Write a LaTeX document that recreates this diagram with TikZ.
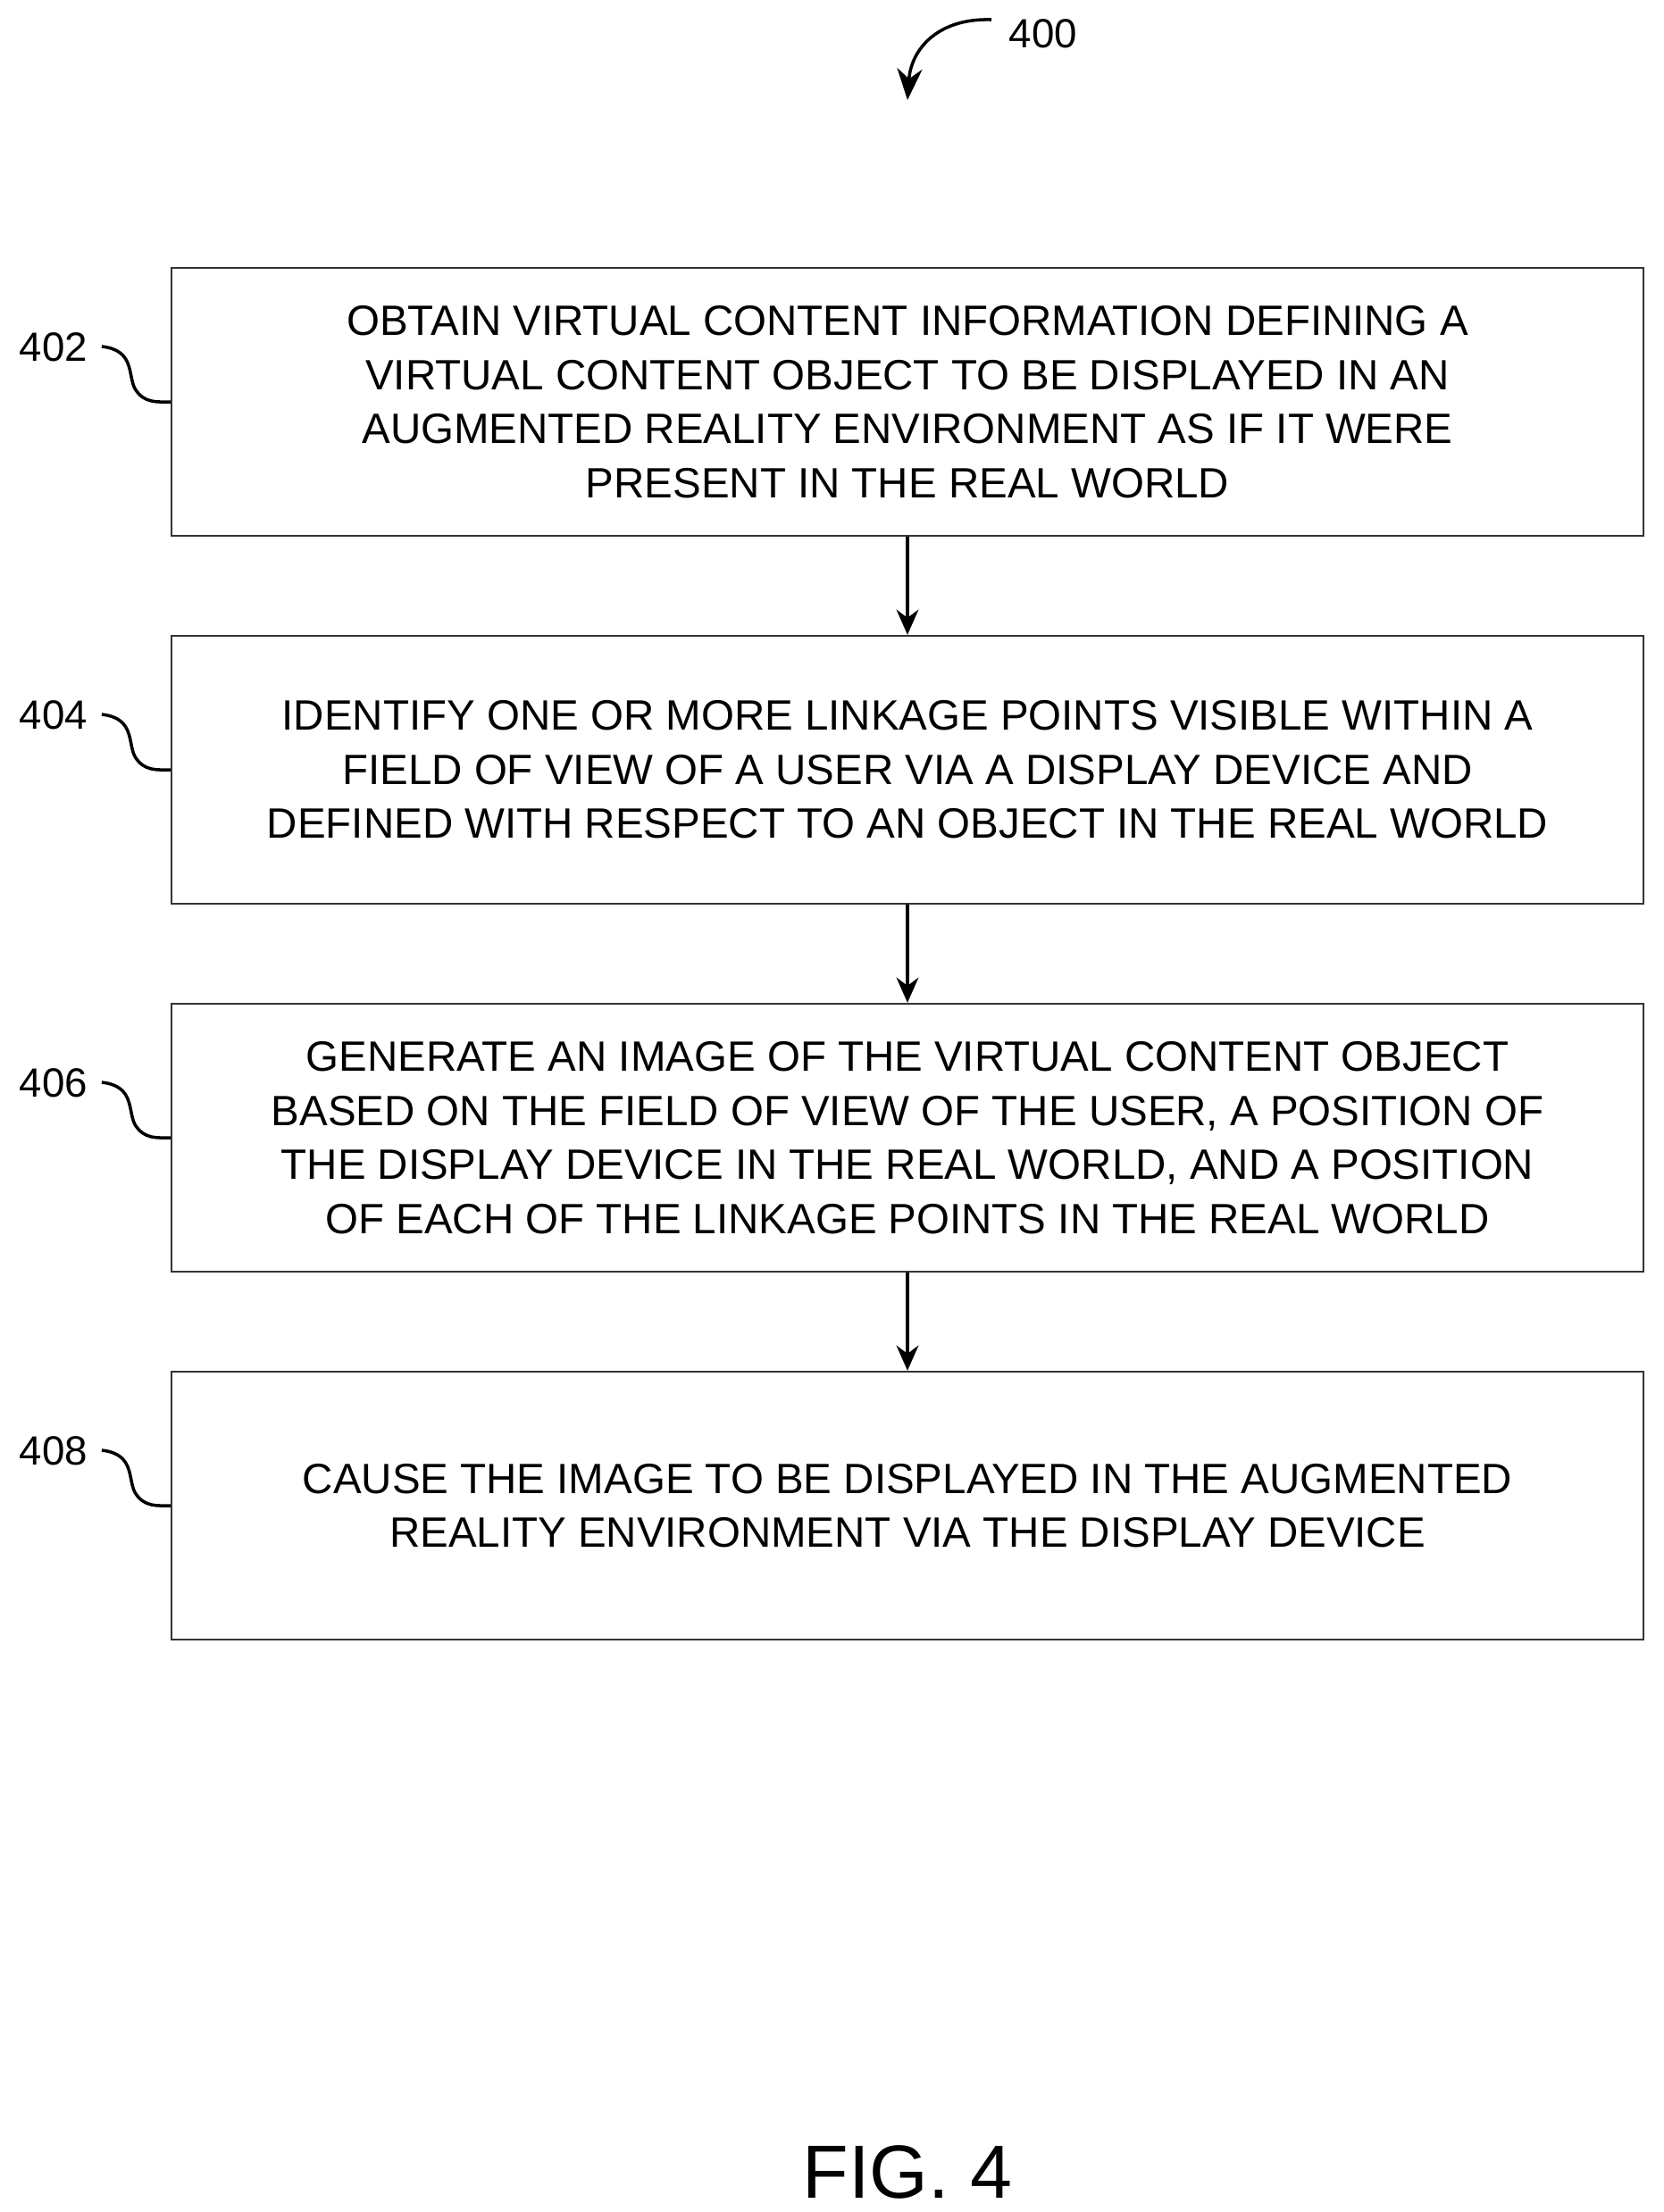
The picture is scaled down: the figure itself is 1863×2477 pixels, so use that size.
\documentclass[tikz,border=0pt]{standalone}
\usepackage{fontspec}
\setmainfont{Liberation Sans}
\usetikzlibrary{positioning,arrows.meta,calc}

\tikzset{
  stepbox/.style={draw=black!80, line width=0.6pt, minimum width=16.47cm, minimum height=3cm,
    align=center, font=\fontsize{13.5pt}{17.2pt}\selectfont, inner sep=0pt},
  reflabel/.style={font=\fontsize{13pt}{15pt}\selectfont},
  flow/.style={-{Stealth[length=8pt,width=7pt]}, line width=1.1pt},
  lead/.style={line width=1pt}
}

\begin{document}
\begin{tikzpicture}[x=0.01cm,y=-0.01cm]
\useasboundingbox (0,0) rectangle (1863,2477);

% steps
\node[stepbox] (s402) at (1016,450) {OBTAIN VIRTUAL CONTENT INFORMATION DEFINING A\\VIRTUAL CONTENT OBJECT TO BE DISPLAYED IN AN\\AUGMENTED REALITY ENVIRONMENT AS IF IT WERE\\PRESENT IN THE REAL WORLD};
\node[stepbox] (s404) at (1016,862) {IDENTIFY ONE OR MORE LINKAGE POINTS VISIBLE WITHIN A\\FIELD OF VIEW OF A USER VIA A DISPLAY DEVICE AND\\DEFINED WITH RESPECT TO AN OBJECT IN THE REAL WORLD};
\node[stepbox] (s406) at (1016,1274) {GENERATE AN IMAGE OF THE VIRTUAL CONTENT OBJECT\\BASED ON THE FIELD OF VIEW OF THE USER, A POSITION OF\\THE DISPLAY DEVICE IN THE REAL WORLD, AND A POSITION\\OF EACH OF THE LINKAGE POINTS IN THE REAL WORLD};
\node[stepbox] (s408) at (1016,1686) {CAUSE THE IMAGE TO BE DISPLAYED IN THE AUGMENTED\\REALITY ENVIRONMENT VIA THE DISPLAY DEVICE};

\draw[flow] (s402) -- (s404);
\draw[flow] (s404) -- (s406);
\draw[flow] (s406) -- (s408);

% reference numerals
\foreach \n/\y in {402/450, 404/862, 406/1274, 408/1686} {
  \node[reflabel] (l\n) at (60,\y-61) {\n};
  \coordinate (c\n) at (s\n.west);
  \draw[lead] ($(c\n)+(-77,-62)$) .. controls ($(c\n)+(-40,-58)$) and ($(c\n)+(-48,-30)$) .. ($(c\n)+(-40,-15)$)
     .. controls ($(c\n)+(-30,2)$) and ($(c\n)+(-15,0)$) .. (c\n);
}

% figure number
\node[reflabel] (l400) at (1168,38) {400};
\coordinate (a400) at (1016,112);
\draw[lead,-{Stealth[length=10pt,width=8pt]}] (1110,22) .. controls (1050,20) and (1020,55) .. (a400);

\node[font=\fontsize{24pt}{28pt}\selectfont] (fig) at (1016,2432) {FIG. 4};
\end{tikzpicture}
\end{document}
